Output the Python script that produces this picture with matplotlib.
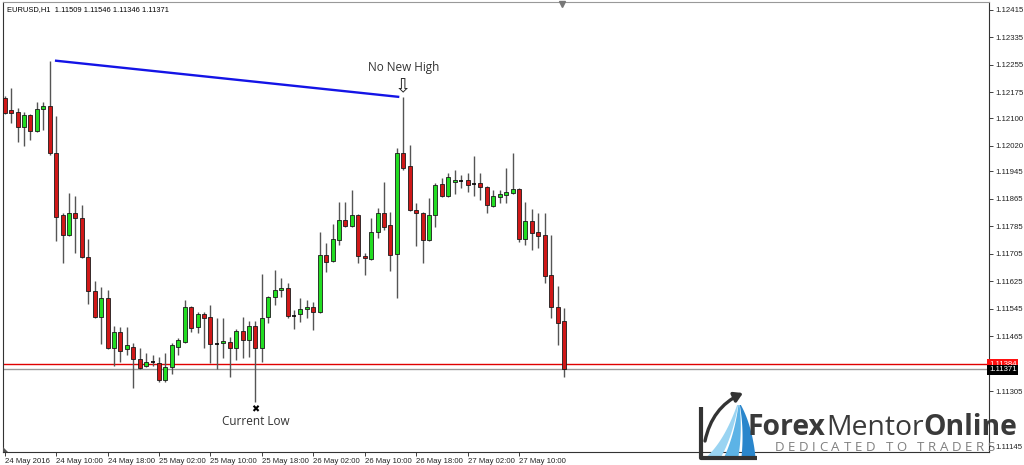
import numpy as np
import pandas as pd
import matplotlib
matplotlib.use("Agg")
import matplotlib.pyplot as plt
from matplotlib.patches import Polygon
from matplotlib.transforms import blended_transform_factory

# EURUSD H1 candles, 24 May 02:00 -> 27 May 17:00 2016
symbol = "EURUSD,H1"
start_time = "2016-05-24 02:00"

opens = [1.12159, 1.12124, 1.12118, 1.12074, 1.12109, 1.12062, 1.12127, 1.12135, 1.11999, 1.11818,
         1.11760, 1.11824, 1.11809, 1.11696, 1.11597, 1.11521, 1.11576, 1.11430, 1.11477, 1.11428,
         1.11434, 1.11399, 1.11378, 1.11390, 1.11387, 1.11338, 1.11375, 1.11434, 1.11448, 1.11550,
         1.11492, 1.11530, 1.11521, 1.11442, 1.11445, 1.11448, 1.11431, 1.11480, 1.11454, 1.11495,
         1.11431, 1.11521, 1.11579, 1.11600, 1.11606, 1.11524, 1.11530, 1.11544, 1.11550, 1.11536,
         1.11702, 1.11684, 1.11745, 1.11803, 1.11786, 1.11818, 1.11699, 1.11690, 1.11769, 1.11824,
         1.11789, 1.11704, 1.11999, 1.11961, 1.11833, 1.11824, 1.11745, 1.11818, 1.11908, 1.11873,
         1.11914, 1.11917, 1.11920, 1.11908, 1.11911, 1.11900, 1.11844, 1.11870, 1.11876, 1.11882,
         1.11894, 1.11748, 1.11801, 1.11769, 1.11760, 1.11643, 1.11550, 1.11509]
highs = [1.12165, 1.12188, 1.12130, 1.12118, 1.12112, 1.12147, 1.12147, 1.12267, 1.12106, 1.11824,
         1.11882, 1.11873, 1.11847, 1.11748, 1.11626, 1.11608, 1.11600, 1.11495, 1.11492, 1.11492,
         1.11445, 1.11431, 1.11416, 1.11411, 1.11405, 1.11416, 1.11445, 1.11460, 1.11571, 1.11552,
         1.11536, 1.11536, 1.11556, 1.11518, 1.11518, 1.11463, 1.11486, 1.11521, 1.11509, 1.11509,
         1.11646, 1.11582, 1.11658, 1.11635, 1.11620, 1.11542, 1.11576, 1.11571, 1.11565, 1.11769,
         1.11737, 1.11792, 1.11856, 1.11856, 1.11891, 1.11820, 1.11707, 1.11809, 1.11839, 1.11914,
         1.11827, 1.12013, 1.12162, 1.12022, 1.11853, 1.11826, 1.11868, 1.11911, 1.11926, 1.11940,
         1.11949, 1.11935, 1.11940, 1.11990, 1.11940, 1.11902, 1.11891, 1.11891, 1.11955, 1.11999,
         1.11896, 1.11856, 1.11835, 1.11824, 1.11824, 1.11760, 1.11611, 1.11546]
lows = [1.12112, 1.12086, 1.12031, 1.12019, 1.12036, 1.12060, 1.12066, 1.11993, 1.11742, 1.11678,
        1.11758, 1.11707, 1.11693, 1.11559, 1.11518, 1.11442, 1.11428, 1.11377, 1.11390, 1.11411,
        1.11314, 1.11370, 1.11375, 1.11377, 1.11332, 1.11332, 1.11355, 1.11411, 1.11446, 1.11477,
        1.11474, 1.11431, 1.11387, 1.11370, 1.11402, 1.11347, 1.11396, 1.11402, 1.11405, 1.11273,
        1.11390, 1.11504, 1.11556, 1.11579, 1.11518, 1.11486, 1.11506, 1.11518, 1.11483, 1.11533,
        1.11652, 1.11682, 1.11731, 1.11784, 1.11784, 1.11678, 1.11643, 1.11688, 1.11751, 1.11774,
        1.11655, 1.11576, 1.11949, 1.11831, 1.11728, 1.11678, 1.11743, 1.11783, 1.11870, 1.11870,
        1.11879, 1.11897, 1.11885, 1.11873, 1.11862, 1.11824, 1.11841, 1.11853, 1.11853, 1.11880,
        1.11739, 1.11731, 1.11716, 1.11722, 1.11620, 1.11518, 1.11440, 1.11346]
closes = [1.12115, 1.12115, 1.12074, 1.12109, 1.12062, 1.12127, 1.12135, 1.11999, 1.11812, 1.11760,
          1.11824, 1.11809, 1.11695, 1.11597, 1.11520, 1.11576, 1.11430, 1.11477, 1.11422, 1.11440,
          1.11399, 1.11373, 1.11390, 1.11390, 1.11338, 1.11375, 1.11440, 1.11454, 1.11550, 1.11489,
          1.11530, 1.11518, 1.11442, 1.11442, 1.11451, 1.11431, 1.11480, 1.11454, 1.11495, 1.11431,
          1.11518, 1.11579, 1.11600, 1.11606, 1.11524, 1.11524, 1.11544, 1.11550, 1.11536, 1.11702,
          1.11681, 1.11748, 1.11803, 1.11786, 1.11818, 1.11699, 1.11693, 1.11769, 1.11824, 1.11783,
          1.11702, 1.11999, 1.11955, 1.11833, 1.11824, 1.11745, 1.11818, 1.11905, 1.11873, 1.11929,
          1.11920, 1.11917, 1.11905, 1.11908, 1.11900, 1.11847, 1.11873, 1.11879, 1.11885, 1.11894,
          1.11748, 1.11801, 1.11766, 1.11757, 1.11640, 1.11550, 1.11504, 1.11371]

support_level = 1.11384
ytick_values = [1.12415, 1.12335, 1.12255, 1.12175, 1.12100, 1.12020, 1.11945, 1.11865,
                1.11785, 1.11705, 1.11625, 1.11545, 1.11465, 1.11305, 1.11145]

o = np.array(opens)
h = np.array(highs)
l = np.array(lows)
c = np.array(closes)
n = len(o)
idx = np.arange(n)
times = pd.date_range(start_time, periods=n, freq="h")

small_font = "Liberation Sans"

fig = plt.figure(figsize=(10.24, 4.65), dpi=100)
ax = fig.add_axes([3 / 1024, 13 / 465, 986 / 1024, 450 / 465])

# candles
up = c > o
down = c < o
flat = c == o
bw = 0.62
ax.vlines(idx, l, h, color="#555555", lw=1, zorder=2)
ax.bar(idx[up], (c - o)[up], bottom=o[up], width=bw, color="#22dd22",
       edgecolor="#1a1a1a", linewidth=0.6, zorder=3)
ax.bar(idx[down], (o - c)[down], bottom=c[down], width=bw, color="#d01818",
       edgecolor="#1a1a1a", linewidth=0.6, zorder=3)
ax.hlines(o[flat], idx[flat] - bw / 2, idx[flat] + bw / 2, color="black", lw=1.2, zorder=3)

# horizontal support + bid line
ax.axhline(support_level, color="#e00000", lw=1, zorder=1)
ax.axhline(c[-1], color="#999999", lw=1, zorder=1)

# descending trendline from the top to the lower high
hi_i = int(np.argmax(h))
nh_i = int(np.argmax(h[20:])) + 20
ax.plot([hi_i + 1, nh_i - 0.8], [h[hi_i], h[nh_i]], color="#1414e6", lw=1.7, zorder=4)

ax.annotate("No New High", (nh_i, h[nh_i]), xytext=(0, 21), textcoords="offset points",
            ha="center", va="center", fontsize=8.5, color="#333333", family="Open Sans")
ax.annotate("\u21e9", (nh_i, h[nh_i]), xytext=(0, 7.5), textcoords="offset points",
            ha="center", va="center", fontsize=14, color="#222222", family="DejaVu Sans")

low_i = int(np.argmin(l))
ax.annotate("\u2716", (low_i, l[low_i]), xytext=(0, -5), textcoords="offset points",
            ha="center", va="center", fontsize=7, color="black", family="DejaVu Sans")
ax.annotate("Current Low", (low_i, l[low_i]), xytext=(0, -13.7), textcoords="offset points",
            ha="center", va="center", fontsize=8.5, color="#333333", family="Open Sans")

# axes setup
ax.set_xlim(-0.26, 153.1)
ax.set_ylim(1.11128, 1.12438)
ax.yaxis.tick_right()
ax.set_yticks(ytick_values)
ax.set_yticklabels([f"{v:.5f}" for v in ytick_values], fontsize=5.6, family=small_font)
ax.tick_params(axis="y", length=3, width=0.6, pad=1.5, colors="#222222")

xt = idx[::8]
xl = [times[0].strftime("%d %b %Y")] + [t.strftime("%d %b %H:%M") for t in times[8::8]]
ax.set_xticks(xt)
ax.set_xticklabels(xl, fontsize=5.6, family=small_font, ha="left")
ax.tick_params(axis="x", length=3, width=0.6, pad=1, colors="#222222")

for side in ["left", "right", "bottom"]:
    ax.spines[side].set_color("#333333")
    ax.spines[side].set_linewidth(0.8)
ax.spines["top"].set_color("#999999")

# price labels on the right scale
tr = blended_transform_factory(ax.transAxes, ax.transData)
ax.text(1.0, support_level, f"{support_level:.5f}", transform=tr, ha="left", va="center",
        fontsize=5.6, family=small_font, color="white", clip_on=False, zorder=6,
        bbox=dict(boxstyle="square,pad=0.2", fc="#ff1010", ec="none"))
ax.text(1.0, c[-1] - 0.00004, f"{c[-1]:.5f}", transform=tr, ha="left", va="center",
        fontsize=5.6, family=small_font, color="white", clip_on=False, zorder=7,
        bbox=dict(boxstyle="square,pad=0.2", fc="black", ec="none"))

# overlay in pixel coordinates: header text, markers and logo
lax = fig.add_axes([0, 0, 1, 1], zorder=5)
lax.set_xlim(0, 1024)
lax.set_ylim(465, 0)
lax.axis("off")
lax.patch.set_alpha(0)

header = f"{symbol}  {o[-1]:.5f} {h[-1]:.5f} {l[-1]:.5f} {c[-1]:.5f}"
lax.text(7, 10, header, fontsize=5.4, family=small_font, va="center", ha="left", color="black")
lax.plot(562, 4.5, marker="v", ms=5, color="#777777")
lax.add_patch(Polygon([(3, 447), (3, 452), (8, 452)], closed=True, fc="#555555", ec="none"))

renderer = fig.canvas.get_renderer()


def text_width(s, weight, fs, family):
    t = lax.text(0, 0, s, fontsize=fs, fontweight=weight, family=family)
    w = t.get_window_extent(renderer).width
    t.remove()
    return w


logo_font = "Open Sans"
parts = [("Forex", "bold"), ("Mentor", "normal"), ("Online", "bold")]
total = sum(text_width(s, w, 20, logo_font) for s, w in parts)
fs_logo = 20 * 270 / total
x = 748
for s, w in parts:
    lax.text(x, 435, s, fontsize=fs_logo, fontweight=w, family=logo_font,
             color="#3a3a3a", va="baseline", ha="left")
    x += text_width(s, w, fs_logo, logo_font)

tag = "DEDICATED TO TRADERS"
fs_tag = 9.5
widths = [text_width(ch, "normal", fs_tag, logo_font) if ch != " " else fs_tag * 0.35 for ch in tag]
track = (220 - sum(widths)) / (len(tag) - 1)
x = 775
for ch, w in zip(tag, widths):
    if ch != " ":
        lax.text(x, 451, ch, fontsize=fs_tag, family=logo_font, color="#7f7f7f",
                 va="baseline", ha="left")
    x += w + track


def bez(p0, p1, p2, s):
    s = s[:, None]
    return (1 - s) ** 2 * np.array(p0) + 2 * (1 - s) * s * np.array(p1) + s ** 2 * np.array(p2)


s = np.linspace(0, 1, 40)
left_edge = bez((706, 456), (724, 440), (737, 405), s)
right_edge = bez((757, 457), (753, 425), (741, 405), s)
for k, col in enumerate(["#9ad4f2", "#5cb3e6", "#2a86cc"]):
    a = left_edge + (right_edge - left_edge) * (k / 3 + 0.03)
    b = left_edge + (right_edge - left_edge) * ((k + 1) / 3 - 0.03)
    lax.add_patch(Polygon(np.vstack([a, b[::-1]]), closed=True, fc=col, ec="none"))

lax.plot([701, 701, 757], [407, 458, 458], color="#333333", lw=3, solid_capstyle="butt")
lax.annotate("", xy=(743, 393), xytext=(705, 441),
             arrowprops=dict(arrowstyle="-|>,head_length=0.5,head_width=0.3", color="#333333",
                             lw=2.4, connectionstyle="arc3,rad=-0.25", shrinkA=0, shrinkB=0))

fig.savefig("out.png", dpi=100, facecolor="white")
